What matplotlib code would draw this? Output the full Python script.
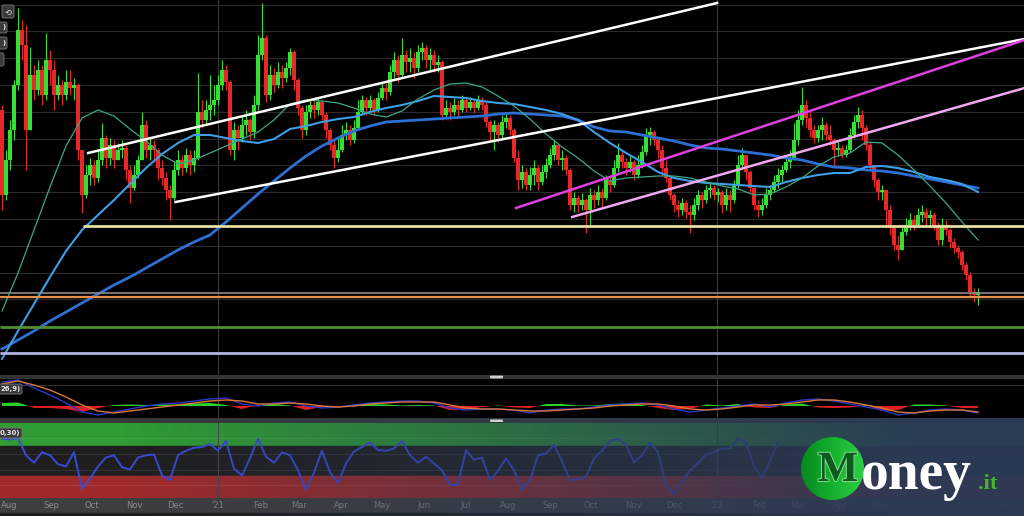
import numpy as np
import pandas as pd
import matplotlib
matplotlib.use("Agg")
import matplotlib.pyplot as plt
import matplotlib.dates as mdates
from matplotlib.patches import Circle, FancyBboxPatch, Rectangle
from matplotlib.colors import LinearSegmentedColormap
import matplotlib.patheffects as pe

# ---------------- data ----------------
first_open = 290
close = [205,240,270,315,370,355,270,325,310,330,305,340,330,305,315,305,318,312,315,250,
         205,225,235,222,240,262,242,255,240,250,252,230,212,225,240,275,250,255,250,232,222,210,202,230,240,232,245,235,242,288,280,290,295,
         300,315,330,318,250,270,262,275,280,268,295,345,362,305,325,315,328,322,332,348,320,292,270,288,295,290,298,285,270,255,242,250,265,270,260,272,288,300,292,300,290,302,312,308,328,340,325,345,338,
         342,332,348,352,340,345,335,338,
         285,292,288,295,290,300,292,298,292,300,295,278,268,275,265,278,282,270,242,220,228,215,225,232,218,228,235,245,255,240,242,230,195,202,195,200,190,205,200,208,202,220,215,
         232,245,238,232,238,225,235,248,265,268,260,250,232,222,205,195,190,197,188,185,195,205,200,210,212,205,208,195,205,200,215,235,245,228,212,195,190,195,205,210,218,225,230,238,242,260,280,
         295,282,270,262,270,275,265,260,250,252,245,250,265,278,285,272,255,235,220,208,210,190,172,155,150,168,175,180,175,185,188,182,185,175,160,175,170,158,152,148,135,125,108,105,108]
high = [295,250,280,320,392,380,375,353,335,340,335,367,350,340,325,320,330,330,322,317,
        220,235,242,240,250,277,265,262,260,257,260,255,235,235,245,288,280,262,260,252,240,228,215,238,250,245,252,250,250,327,300,300,325,
        315,325,340,335,320,278,275,285,290,282,305,365,397,365,335,332,338,335,338,352,350,322,295,295,300,300,302,300,288,272,260,262,275,278,275,280,300,305,303,305,302,308,318,317,335,348,345,362,350,
        352,348,355,358,355,352,350,345,
        340,300,298,302,300,305,302,303,300,305,303,298,280,280,278,285,288,285,272,250,235,232,233,240,235,235,242,252,260,255,250,245,232,208,205,207,202,212,210,215,212,225,225,
        240,257,250,242,245,240,245,255,272,273,270,262,255,240,225,207,200,202,200,195,202,210,208,215,217,215,212,210,212,210,220,245,252,245,230,215,200,202,212,215,225,232,235,245,250,277,290,
        313,300,288,275,275,283,278,275,262,258,255,255,272,285,293,290,275,258,235,222,215,210,195,175,165,175,182,187,185,192,195,192,190,188,178,182,180,172,162,155,150,138,128,112,112]
low = [190,200,230,260,310,340,230,275,300,305,295,300,315,290,300,295,300,305,300,240,
       187,202,215,215,218,235,232,235,232,240,242,220,197,210,222,240,242,240,238,220,215,200,180,200,225,225,228,225,228,240,272,275,280,
       285,295,310,310,245,240,250,258,265,260,262,290,340,298,300,308,312,312,318,325,310,285,262,265,282,282,285,280,262,250,232,238,248,260,255,257,270,285,285,288,285,288,300,300,305,322,318,322,328,
       328,322,328,340,332,330,328,328,
       280,282,280,285,282,288,288,290,287,290,290,273,260,250,258,262,272,265,238,210,212,210,210,215,210,215,222,232,240,235,230,225,190,188,188,190,167,175,192,195,193,200,208,
       213,228,232,225,228,220,222,232,245,255,255,242,225,218,200,188,183,185,182,167,180,190,192,197,202,200,198,187,190,188,197,212,230,220,208,190,183,185,192,200,208,212,218,228,232,240,255,
       275,273,263,257,258,260,260,255,235,245,242,243,248,262,272,260,250,230,213,200,200,173,165,150,140,150,165,170,170,175,178,175,175,170,155,155,165,152,147,142,130,120,104,98,95]

# moving averages, one value every 4 candles
ma_fast = [89,127,170,213,254,282,290,284,271,259,245,236,240,247,254,261,268,280,296,300,299,297,292,286,283,289,301,310,316,317,313,304,294,281,266,253,242,229,219,222,223,224,224,222,218,214,211,205,206,213,222,234,243,247,258,257,245,230,214,197,178,160]
ma_mid = [41,69,96,123,149,170,185,200,216,232,246,257,265,265,262,259,257,261,271,274,278,281,283,288,292,295,299,304,303,302,299,297,296,293,290,286,280,268,257,247,238,228,222,219,217,216,215,214,213,218,222,225,227,227,233,234,232,228,223,220,216,208]
ma_slow = [51,60,69,79,88,97,106,115,123,132,141,150,158,165,178,192,206,219,232,244,254,262,269,274,278,279,280,281,282,283,284,286,287,286,285,284,280,273,269,268,265,262,259,255,252,251,249,247,245,242,240,236,233,232,230,229,227,224,221,218,215,212]

# MACD, one value every 4 candles
macd_line = [24,26,18,11,3,-6,-9,-6,-3,0,2,3,5,7,8,2,0,3,4,0,-2,-1,1,3,4,5,5,3,-2,-4,-3,-3,-4,-7,-4,-3,-3,-1,1,2,3,1,-3,-6,-4,-2,0,2,-1,3,6,7,5,2,-1,-4,-9,-7,-4,-3,-4,-7]
macd_signal = [22,25,21,16,9,1,-5,-7,-5,-3,-1,1,3,5,6,5,2,2,3,2,0,-1,0,2,3,4,4,4,1,-2,-3,-3,-4,-5,-5,-4,-3,-2,0,1,2,2,0,-3,-4,-3,-1,1,1,2,4,6,6,4,1,-2,-6,-7,-5,-4,-4,-6]
macd_hist = [3,3.5,-2,-2,-3,-6,-2,1,1.5,1,1.5,1.5,2.5,3,1,-3,1,2,0.5,-4,-1,-2,1.5,2,1.5,0.5,1,0.5,-4,-3.5,-1,0.5,-1.5,-2,2,2,0.5,0.5,2,2.5,1,-2,-4,-3,1.5,0.5,2,-1.5,-2,1.5,2.5,-1.5,-2,-1.5,1,-5,-4,1.5,1.5,0.5,-2,-2]

# RSI, one value every 2 candles
rsi = [79,78,80,57,47,61,57,45,42,61,12,26,42,54,57,41,38,54,57,58,30,24,57,63,67,68,72,63,76,39,
       30,53,79,55,47,61,57,37,11,34,63,34,20,46,62,68,74,64,63,66,76,57,47,55,46,37,17,18,64,51,
       54,24,36,53,37,11,24,57,59,71,49,24,25,28,53,63,76,79,71,47,57,74,61,17,5,22,37,47,58,61,
       66,66,79,74,43,26,50,74]

month_labels = ["Aug", "Sep", "Oct", "Nov", "Dec", "'21", "Feb", "Mar", "Apr", "May", "Jun", "Jul",
                "Aug", "Sep", "Oct", "Nov", "Dec", "'22", "Feb", "Mar", "Apr", "May", "Jun", "Jul", "Aug"]

level_prices = [174, 107, 103, 73, 47]
level_start = ["2020-09-24", None, None, None, None]

trend_start_dates = ["2020-09-28", "2020-12-01", "2021-08-07", "2021-09-17"]
trend_start_prices = [247, 198, 192, 183]
trend_end_dates = ["2022-01-01", "2022-08-14", "2022-08-14", "2022-08-14"]
trend_end_prices = [397, 361, 360, 312]

# ---------------- layout ----------------
W, H = 1024, 516
fig = plt.figure(figsize=(W / 100, H / 100), dpi=100, facecolor="black")


def px_axes(x0, y0, x1, y1, z=1):
    a = fig.add_axes([x0 / W, 1 - y1 / H, (x1 - x0) / W, (y1 - y0) / H], zorder=z)
    a.set_axis_off()
    return a


DAYS_PER_PX = 365.0 / 499.0
jan21 = mdates.datestr2num("2021-01-01")
x_left = jan21 - 218 * DAYS_PER_PX
x_right = x_left + W * DAYS_PER_PX
n = len(close)
xs = x_left + DAYS_PER_PX * (2 + 4 * np.arange(n))
year_lines = [mdates.datestr2num("2021-01-01"), mdates.datestr2num("2022-01-01")]

# background / separators
bg = px_axes(0, 0, W, H, z=0)
bg.set_xlim(0, W); bg.set_ylim(H, 0)
bg.add_patch(Rectangle((0, 0), W, H, color="black"))
bg.add_patch(Rectangle((0, 375), W, 4, color="#333333"))
bg.add_patch(Rectangle((0, 418), W, 5, color="#383838"))
bg.add_patch(Rectangle((0, 498), W, 15, color="#3e3e3e"))
bg.add_patch(Rectangle((0, 513), W, 3, color="#1c1c1c"))

# ---------------- main price panel ----------------
ax = px_axes(0, 0, W, 375)
ax.set_xlim(x_left, x_right)
ax.set_ylim(25, 400)
ax.add_patch(Rectangle((x_left, 25), x_right - x_left, 375, color="black", zorder=0))
for k in range(14):
    ax.axhline(47 + 26.8 * k, color="#2a2a2a", lw=0.8, zorder=0.5)
for d in year_lines:
    ax.axvline(d, color="#3a3a3a", lw=0.8, zorder=0.5)

c = np.array(close, float)
o = np.array([first_open] + close[:-1], float)
h = np.maximum(np.array(high, float), np.maximum(o, c))
l = np.minimum(np.array(low, float), np.minimum(o, c))
up = c >= o
cols = np.where(up, "#35e035", "#e82828")
ax.vlines(xs, l, h, colors=cols, lw=0.8, zorder=2)
ax.bar(xs, np.maximum(np.abs(c - o), 0.8), width=2.3, bottom=np.minimum(o, c),
       color=cols, linewidth=0, zorder=2)

xm = xs[::4]
ax.plot(xm, ma_slow, color="#2d6fd2", lw=2.0, zorder=3)
ax.plot(xm, ma_mid, color="#3f9ee6", lw=1.5, zorder=3)
ax.plot(xm, ma_fast, color="#3aa88a", lw=0.9, zorder=3)

level_colors = ["#e6e0a0", "#8a8a8a", "#e8904a", "#4f8f2f", "#b4b4e6"]
level_widths = [2.0, 1.2, 1.6, 2.0, 2.0]
for p, s, col, w in zip(level_prices, level_start, level_colors, level_widths):
    xa = mdates.datestr2num(s) if s else x_left
    ax.plot([xa, x_right], [p, p], color=col, lw=w, zorder=4, solid_capstyle="butt")

trend_colors = ["white", "white", "#e040e0", "#f0a8f0"]
for sd, sp, ed, ep, col in zip(trend_start_dates, trend_start_prices, trend_end_dates,
                               trend_end_prices, trend_colors):
    ax.plot([mdates.datestr2num(sd), mdates.datestr2num(ed)], [sp, ep], color=col, lw=1.8, zorder=4)

# ---------------- MACD panel ----------------
axm = px_axes(0, 379, W, 418)
axm.set_xlim(x_left, x_right)
axm.set_ylim(-12, 27)
axm.add_patch(Rectangle((x_left, -12), x_right - x_left, 39, color="black", zorder=0))
axm.axhline(21, color="#333333", lw=0.8, zorder=0.5)
for d in year_lines:
    axm.axvline(d, color="#3a3a3a", lw=0.8, zorder=0.5)
hist = np.array(macd_hist, float)
axm.fill_between(xm, 0, hist, where=hist >= 0, color="#2ad02a", interpolate=True, lw=0, zorder=2)
axm.fill_between(xm, 0, hist, where=hist < 0, color="#e02020", interpolate=True, lw=0, zorder=2)
axm.plot(xm, macd_line, color="#2c36c8", lw=1.0, zorder=3)
axm.plot(xm, macd_signal, color="#d9783a", lw=1.0, zorder=3)

# ---------------- RSI panel ----------------
axr = px_axes(0, 423, W, 498)
axr.set_xlim(x_left, x_right)
axr.set_ylim(0, 100)
axr.axhspan(70, 100, color="#2f9c34", zorder=0)
axr.axhspan(30, 70, color="#1e1e1e", zorder=0)
axr.axhspan(0, 30, color="#a02a2a", zorder=0)
for v in [17, 38, 59, 80]:
    axr.axhline(v, color=(1, 1, 1, 0.09), lw=0.8, zorder=0.5)
for d in year_lines:
    axr.axvline(d, color="#4a4a4a", lw=0.8, zorder=0.5)
axr.plot(xs[::2][:len(rsi)], rsi, color="#3a4ad8", lw=1.4, zorder=3)

# ---------------- month labels ----------------
axl = px_axes(0, 498, W, 513)
axl.set_xlim(x_left, x_right)
axl.set_ylim(0, 1)
month_starts = pd.date_range("2020-08-01", periods=len(month_labels), freq="MS")
for ms, lab in zip(month_starts, month_labels):
    axl.text(mdates.date2num(ms), 0.5, lab, color="#8c8c8c", fontsize=6,
             family=["Liberation Sans Narrow", "DejaVu Sans"], ha="center", va="center")

# ---------------- banner overlay ----------------
axo = px_axes(0, 418, W, H, z=5)
gx = np.linspace(0, 1, 512)
alpha = np.clip((gx * W - 120) / 820, 0, 0.97)
grad = np.zeros((1, 512, 4))
grad[..., 0], grad[..., 1], grad[..., 2] = 0x2b / 255, 0x3a / 255, 0x55 / 255
grad[..., 3] = alpha
axo.imshow(grad, extent=[0, 1, 0, 1], aspect="auto", interpolation="bilinear")
axo.set_xlim(0, 1); axo.set_ylim(0, 1)

# ---------------- decorations & logo ----------------
top = px_axes(0, 0, W, H, z=10)
top.set_xlim(0, W); top.set_ylim(H, 0)
top.patch.set_alpha(0)

def tag(x0, y0, w, hgt, txt=""):
    top.add_patch(FancyBboxPatch((x0, y0), w, hgt, boxstyle="round,pad=0,rounding_size=2",
                                 fc="#3a3a3a", ec="#707070", lw=0.7))
    if txt:
        top.text(x0 + w - 1.5, y0 + hgt / 2, txt, color="#e8e8e8", fontsize=5.0,
                 weight="bold", ha="right", va="center")

tag(2, 5, 12, 13)
top.text(8, 11.5, "⟲", color="#dddddd", fontsize=6, ha="center", va="center")
tag(-6, 22, 13, 11, ")")
tag(-6, 37, 13, 12, ")")
tag(-6, 53, 10, 13)
tag(-3, 384, 25, 10, "26,9)")
tag(-3, 428, 25, 10, "0,30)")
top.add_patch(FancyBboxPatch((490, 375.6), 13, 2.8, boxstyle="round,pad=0,rounding_size=1",
                             fc="#cfcfcf", ec="none"))
top.add_patch(FancyBboxPatch((490, 419.5), 13, 2.5, boxstyle="round,pad=0,rounding_size=1",
                             fc="#cfcfcf", ec="none"))

circ = Circle((832.5, 468.5), 31.5, transform=top.transData, fc="none", ec="none")
top.add_patch(circ)
green_cmap = LinearSegmentedColormap.from_list("g", ["#078a1f", "#15b030", "#2bd043"])
im = top.imshow(np.linspace(0, 1, 64)[None, :], cmap=green_cmap, extent=[801, 864, 500, 437],
                aspect="auto", zorder=2)
im.set_clip_path(circ)
top.text(838, 471, "M", color="#0d5a1d", fontsize=31, weight="bold",
         family=["Liberation Serif", "DejaVu Serif"], ha="center", va="center", zorder=3,
         path_effects=[pe.withStroke(linewidth=1.5, foreground="#7fd88a")])
top.text(861, 489, "oney", color="white", fontsize=40, weight="bold",
         family=["Liberation Serif", "DejaVu Serif"], ha="left", va="baseline", zorder=3)
top.text(978, 489, ".it", color="#44b82c", fontsize=16, weight="bold",
         family=["Liberation Serif", "DejaVu Serif"], ha="left", va="baseline", zorder=3)

fig.savefig("out.png", dpi=100, facecolor="black")
